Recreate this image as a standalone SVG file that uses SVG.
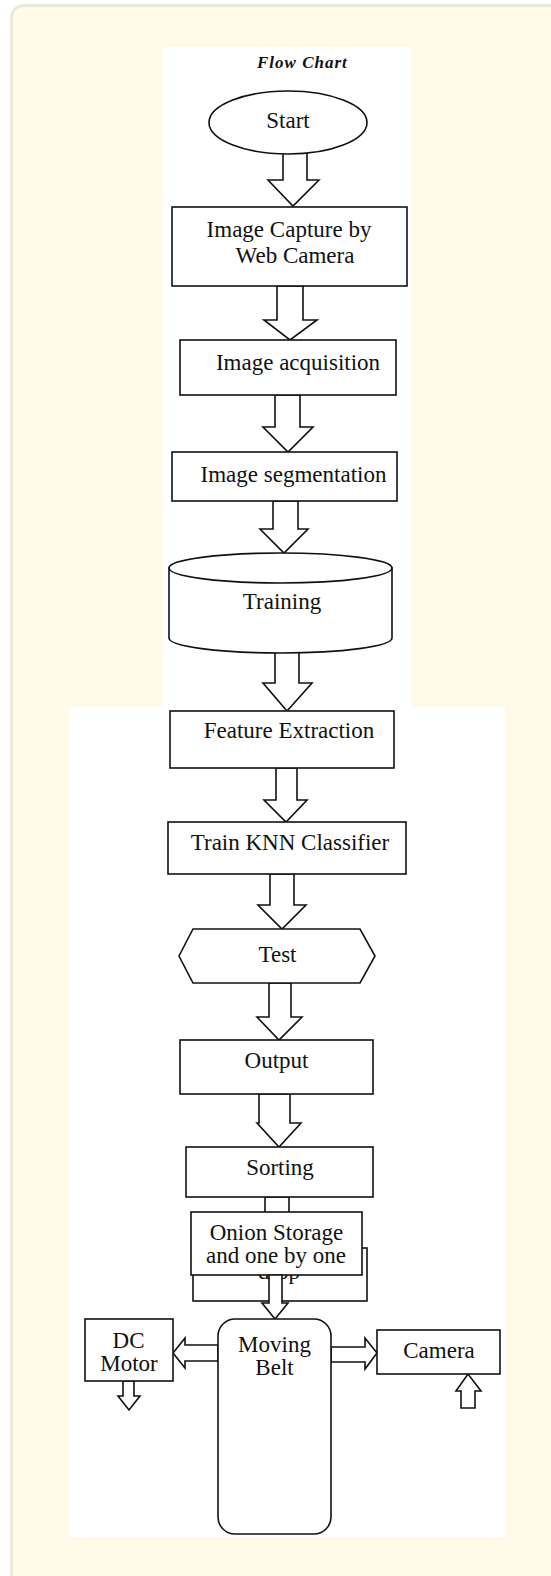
<svg xmlns="http://www.w3.org/2000/svg" width="551" height="1576" viewBox="0 0 551 1576">
<style>
.shp{fill:#fff;stroke:#111;stroke-width:1.6}
.arw{fill:#fff;stroke:#111;stroke-width:1.6;stroke-linejoin:miter}
.t{font-family:"Liberation Serif","Times New Roman",serif;font-size:23px;fill:#111;text-anchor:middle}
</style>
<rect x="0" y="0" width="551" height="1576" fill="#fff"/>
<rect x="11.5" y="5.5" width="620" height="1620" rx="12" fill="#fffbe9" stroke="#ebe8dd" stroke-width="3"/>
<rect x="163" y="47" width="248" height="660" fill="#fff"/>
<rect x="69" y="707" width="436" height="830" fill="#fff"/>
<text x="257" y="67.5" font-family="'Liberation Serif','Times New Roman',serif" font-size="17" font-weight="bold" font-style="italic" letter-spacing="1" fill="#111">Flow Chart</text>

<g id="connectors">
<polygon class="arw" points="283,150 307,150 307,180 319,180 293,206 268,180 283,180"/>
<polygon class="arw" points="277,286 303,286 303,320 317,320 290,340 264,320 277,320"/>
<polygon class="arw" points="275,395 300,395 300,427 313,427 288,452 263,427 275,427"/>
<polygon class="arw" points="273,501 298,501 298,529 308,529 284,553 260,529 273,529"/>
<polygon class="arw" points="275,652 299,652 299,683 312,683 287,711 263,683 275,683"/>
<polygon class="arw" points="276,768 297,768 297,800 307,800 286,822 264,800 276,800"/>
<polygon class="arw" points="270,874 294,874 294,905 306,905 282,929 258,905 270,905"/>
<polygon class="arw" points="269,983 291,983 291,1017 302,1017 279,1040 257,1017 269,1017"/>
<polygon class="arw" points="259,1094 290,1094 290,1123 301,1123 279,1147 257,1123 259,1123"/>
<polygon class="arw" points="265,1197 289,1197 289,1228 300,1228 277,1248 254,1228 265,1228"/>
</g>

<g id="start">
<ellipse class="shp" cx="288" cy="122.5" rx="79" ry="31.5"/>
<text class="t" x="288" y="128">Start</text>
</g>
<g id="capture">
<rect class="shp" x="172" y="207" width="235" height="79"/>
<text class="t" x="289" y="237">Image Capture by</text>
<text class="t" x="295" y="263">Web Camera</text>
</g>
<g id="acquisition">
<rect class="shp" x="180" y="340" width="216" height="55"/>
<text class="t" x="298" y="370">Image acquisition</text>
</g>
<g id="segmentation">
<rect class="shp" x="172" y="452" width="225" height="49"/>
<text class="t" x="293.5" y="482">Image segmentation</text>
</g>
<g id="training">
<path class="shp" d="M169,568 L169,638 A111.5,15 0 0 0 392,638 L392,568 Z"/>
<ellipse class="shp" cx="280.5" cy="568" rx="111.5" ry="15"/>
<text class="t" x="282" y="609">Training</text>
</g>
<g id="feature">
<rect class="shp" x="170" y="711" width="224" height="57"/>
<text class="t" x="289" y="738">Feature Extraction</text>
</g>
<g id="knn">
<rect class="shp" x="168" y="822" width="238" height="52"/>
<text class="t" x="290" y="850">Train KNN Classifier</text>
</g>
<g id="test">
<polygon class="shp" points="179,956 193,929 360,929 375,956 360,983 193,983"/>
<text class="t" x="277.5" y="962">Test</text>
</g>
<g id="output">
<rect class="shp" x="180" y="1040" width="193" height="54"/>
<text class="t" x="276.5" y="1068">Output</text>
</g>
<g id="sorting">
<rect class="shp" x="186" y="1147" width="187" height="50"/>
<text class="t" x="280" y="1175">Sorting</text>
</g>
<g id="storage">
<rect class="shp" x="193" y="1248" width="174" height="53"/>
<text class="t" x="279" y="1279">drop</text>
<rect class="shp" x="191" y="1212" width="171" height="63"/>
<text class="t" x="276.5" y="1240">Onion Storage</text>
<text class="t" x="276" y="1263">and one by one</text>
</g>
<g id="connectors-lower">
<polygon class="arw" points="269,1275 282,1275 282,1303 288,1303 275,1319 262,1303 269,1303"/>
<polygon class="arw" points="218,1345 185,1345 185,1338 173,1353 185,1368 185,1361 218,1361"/>
<polygon class="arw" points="331,1347 365,1347 365,1338 377,1353 365,1369 365,1362 331,1362"/>
<polygon class="arw" points="123,1381 134,1381 134,1396 140,1396 129,1410 118,1396 123,1396"/>
<polygon class="arw" points="461,1408 475,1408 475,1391 481,1391 468,1374 456,1391 461,1391"/>
</g>
<g id="belt">
<rect class="shp" x="218" y="1319" width="113" height="215" rx="17"/>
<text class="t" x="274.5" y="1352">Moving</text>
<text class="t" x="274.5" y="1375">Belt</text>
</g>
<g id="dcmotor">
<rect class="shp" x="85" y="1319" width="88" height="62"/>
<text class="t" x="128.5" y="1348">DC</text>
<text class="t" x="129" y="1371">Motor</text>
</g>
<g id="camera">
<rect class="shp" x="377" y="1330" width="123" height="44"/>
<text class="t" x="439" y="1358">Camera</text>
</g>
</svg>
